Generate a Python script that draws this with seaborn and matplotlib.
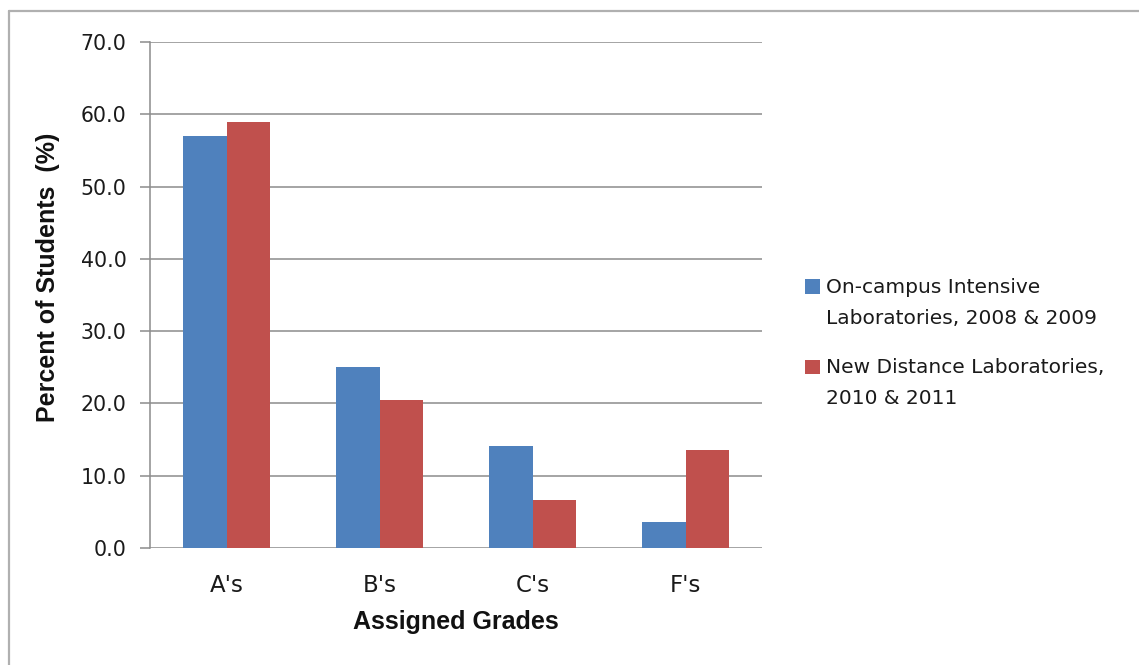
import matplotlib
matplotlib.use("Agg")
import matplotlib.pyplot as plt
import seaborn as sns
import pandas as pd
from matplotlib.lines import Line2D
from matplotlib.patches import Patch, Rectangle
from matplotlib.legend_handler import HandlerPatch

categories = ["A's", "B's", "C's", "F's"]
series_names = ["On-campus Intensive\nLaboratories, 2008 & 2009",
                "New Distance Laboratories,\n2010 & 2011"]
oncampus = [57.0, 25.0, 14.1, 3.6]
distance = [59.0, 20.5, 6.6, 13.6]
yticks = [0, 10, 20, 30, 40, 50, 60, 70]
colors = ["#4F81BD", "#C0504D"]

df = pd.DataFrame({
    "grade": categories * 2,
    "pct": oncampus + distance,
    "series": [series_names[0]] * 4 + [series_names[1]] * 4,
})

sns.set_theme(style="white")
plt.rcParams["font.family"] = ["DejaVu Sans"]

W, H = 1139, 665
fig = plt.figure(figsize=(W / 100, H / 100), dpi=100)
ax = fig.add_axes([150 / W, 1 - 548 / H, (762 - 150) / W, (548 - 42) / H])

sns.barplot(data=df, x="grade", y="pct", hue="series", palette=colors,
            width=0.57, saturation=1, ax=ax, legend=False, linewidth=0)

ax.set_xlim(-0.5, 3.5)
ax.set_ylim(0, 70)
ax.set_yticks(yticks)
ax.set_yticklabels([f"{v:.1f}" for v in yticks])
grid_c = "#8c8c8c"
ax.yaxis.grid(True, color=grid_c, linewidth=1.1)
ax.set_axisbelow(True)
for s in ["top", "right", "bottom"]:
    ax.spines[s].set_visible(False)
ax.spines["left"].set_color(grid_c)
ax.spines["left"].set_linewidth(1.1)
ax.tick_params(axis="y", direction="out", length=7, width=1.1, color=grid_c,
               pad=10, labelsize=14.8, labelcolor="#1a1a1a", left=True)
ax.tick_params(axis="x", length=0, pad=19, labelsize=16.5, labelcolor="#1a1a1a")

ax.set_xlabel("")
ax.set_ylabel("")
fig.text(456 / W, 1 - 622 / H, "Assigned Grades", ha="center", va="center",
         fontsize=18, fontweight="bold", family=["Liberation Sans"], color="#111111")
fig.text(48 / W, 1 - 277 / H, "Percent of Students  (%)", ha="center", va="center",
         rotation=90, fontsize=18, fontweight="bold", family=["Liberation Sans"],
         color="#111111")


class FirstLineHandler(HandlerPatch):
    def __init__(self, shift, **kw):
        super().__init__(**kw)
        self.shift = shift

    def create_artists(self, legend, orig_handle, xdescent, ydescent,
                       width, height, fontsize, trans):
        p = Rectangle((-xdescent, -ydescent + self.shift), width, height,
                      facecolor=orig_handle.get_facecolor(), edgecolor="none",
                      transform=trans)
        return [p]


handles = [Patch(facecolor=c, edgecolor="none") for c in colors]
hmap = {h: FirstLineHandler(shift=12.0) for h in handles}
leg = fig.legend(handles, series_names, loc="upper left",
                 bbox_to_anchor=(797 / W, 1 - 270 / H), frameon=False,
                 fontsize=14.5, handlelength=0.75, handleheight=0.75,
                 handletextpad=0.3, labelspacing=1.5, borderaxespad=0,
                 handler_map=hmap)
for t in leg.get_texts():
    t.set_linespacing(1.8)
    t.set_color("#1a1a1a")

border_c = "#b0b0b0"
fig.add_artist(Line2D([8.5 / W, 8.5 / W], [0, 1 - 11 / H], color=border_c,
                      linewidth=1.6, transform=fig.transFigure))
fig.add_artist(Line2D([8.5 / W, 1.0], [1 - 11 / H, 1 - 11 / H], color=border_c,
                      linewidth=1.6, transform=fig.transFigure))

fig.savefig("out.png", dpi=100)
